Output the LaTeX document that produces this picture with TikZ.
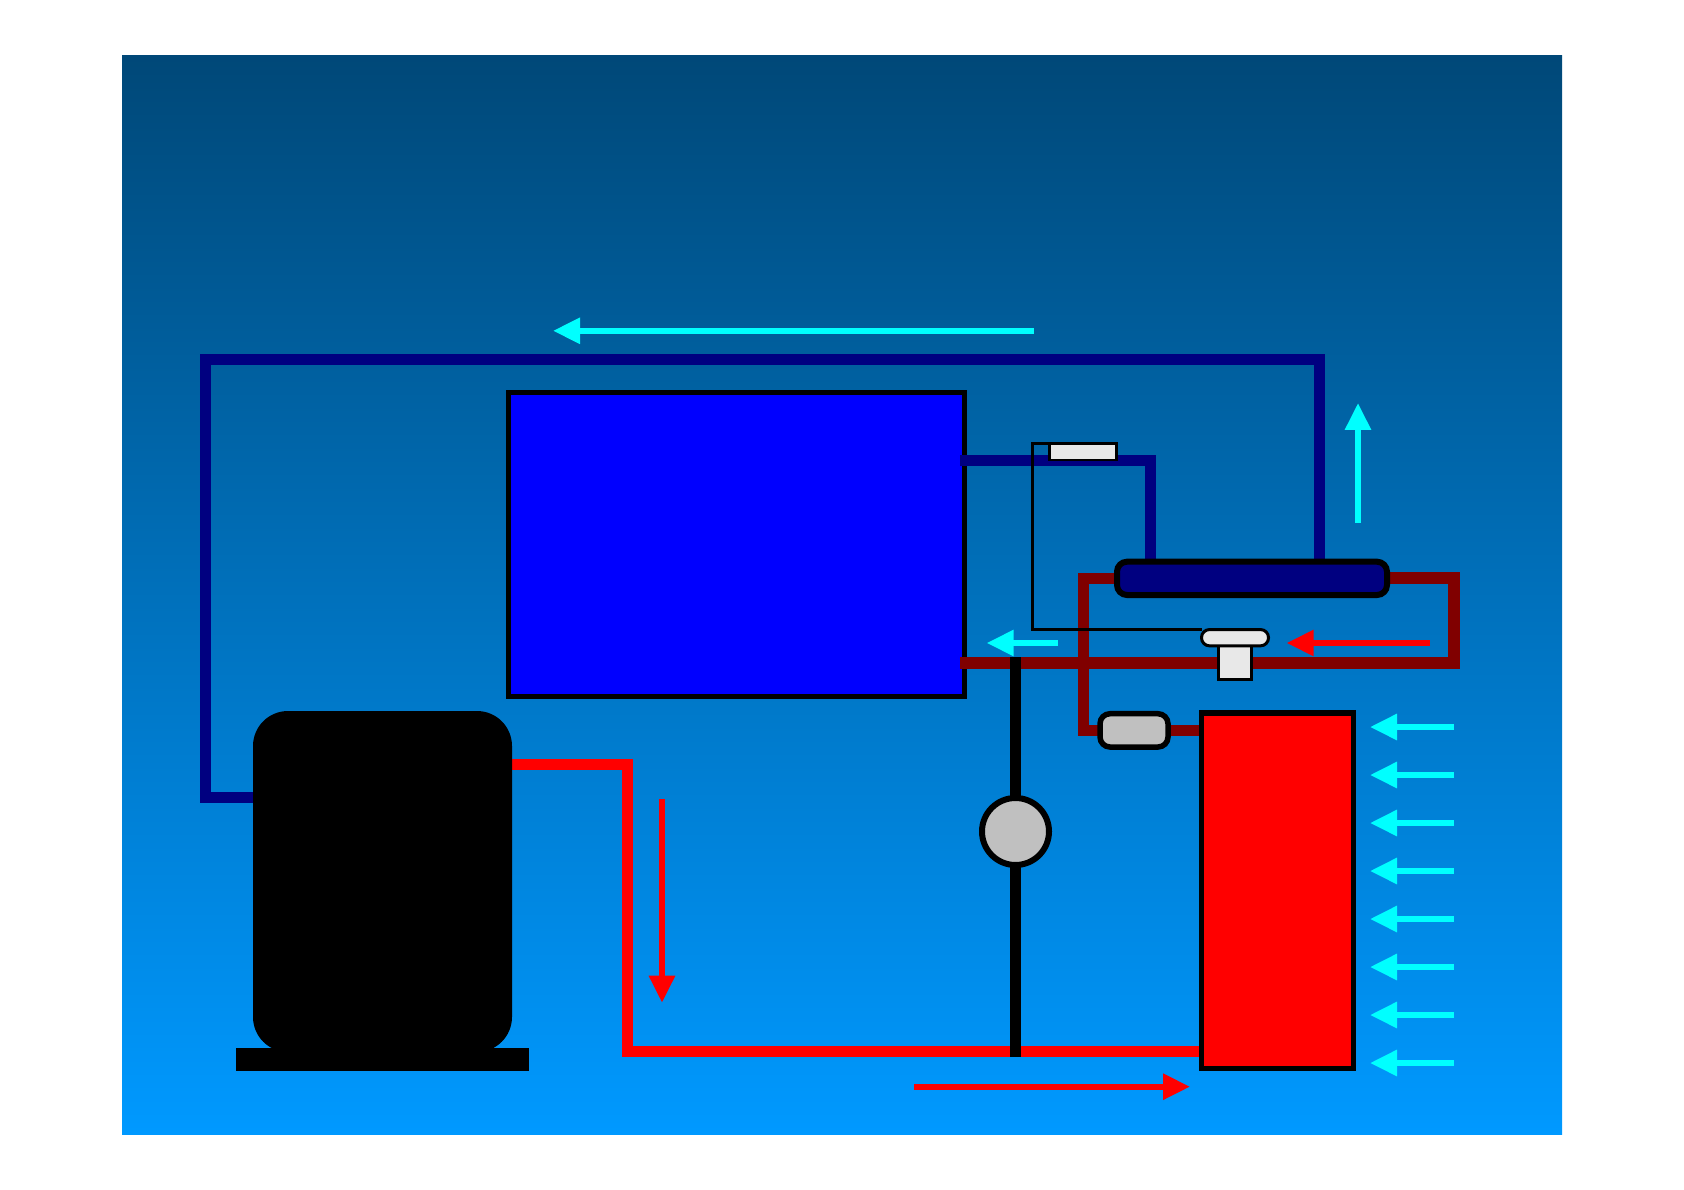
\documentclass[tikz,border=0pt]{standalone}
\usetikzlibrary{arrows.meta}
\pgfdeclarelayer{back}\pgfdeclarelayer{pipes}
\pgfsetlayers{back,pipes,main}
\definecolor{skytop}{RGB}{0,72,120}
\definecolor{skybot}{RGB}{0,153,255}
\definecolor{coilblue}{RGB}{0,0,128}
\definecolor{linered}{RGB}{128,0,0}
\definecolor{partgrey}{RGB}{192,192,192}
\definecolor{partwhite}{RGB}{232,232,232}
\definecolor{flowcyan}{RGB}{0,255,255}
\tikzset{
  part/.style 2 args={minimum width=#1*0.02cm,minimum height=#2*0.02cm,inner sep=0pt,outer sep=0pt,draw=black},
  solid part/.style 2 args={minimum width=#1*0.02cm,minimum height=#2*0.02cm,inner sep=0pt,outer sep=0pt,fill=black},
  pipe/.style={line width=0.22cm},
  flow/.style={line width=0.12cm,-{Triangle[length=0.54cm,width=0.5cm]}},
}
\begin{document}
\begin{tikzpicture}[x=0.02cm,y=-0.02cm]
  \useasboundingbox (0,0) rectangle (1684,1190);
  \begin{pgfonlayer}{back}
    \shade[top color=skytop,bottom color=skybot] (122,55) rectangle (1562,1134.5);
    \node[part={456}{303.8},line width=0.11cm,fill=blue] (evaporator) at (736.5,544.4) {};
  \end{pgfonlayer}
  \node[solid part={293}{23}] (base) at (382.5,1059.5) {};
  \node[solid part={259}{341},rounded corners=0.7cm] (compressor) at (382.5,881.5) {};
  \node[part={152}{355.5},line width=0.11cm,fill=red] (condenser) at (1277.5,890.75) {};
  \node[part={270}{33.3},line width=0.12cm,fill=coilblue,rounded corners=0.2cm] (receiver) at (1252,578.35) {};
  \node[part={68}{33.3},line width=0.11cm,fill=partgrey,rounded corners=0.2cm] (filter) at (1134,730.35) {};
  \node[circle,draw=black,line width=0.12cm,fill=partgrey,minimum size=67*0.02cm,inner sep=0pt,outer sep=0pt] (glass) at (1015.5,831.5) {};
  \node[part={67}{16.5},line width=0.055cm,fill=partwhite] (sensor) at (1083,451.75) {};
  \node[part={32.8}{39.4},line width=0.055cm,fill=partwhite] (stem) at (1234.9,659.7) {};
  \node[part={67}{16.3},line width=0.06cm,fill=partwhite,rounded corners=0.16cm] (valvecap) at (1235,637.7) {};
  \coordinate (suctionleft) at (205,797.7);
  \coordinate (suctiontop) at (1319.5,359.5);
  \coordinate (coilend) at (960,460);
  \coordinate (coilbend) at (1150.7,460);
  \coordinate (hotbend) at (627.5,1051.5);
  \coordinate (drierbend) at (1083.3,730.35);
  \coordinate (linebend) at (1454,663);
  \coordinate (lineend) at (960,663);
  \coordinate (glasstop) at (1015.5,657.3);
  \coordinate (glassbot) at (1015.5,1057);
  \coordinate (capleft) at (1032.6,536);
  \begin{pgfonlayer}{pipes}
    \draw[pipe,coilblue] (compressor.west |- suctionleft) -- (suctionleft) |- (suctiontop) -- (suctiontop |- receiver.north);
    \draw[pipe,coilblue] (coilend) -- (coilbend) -- (coilbend |- receiver.north);
    \draw[pipe,red] (compressor.east |- 0,764.5) -| (hotbend) -- (condenser.west |- hotbend);
    \draw[pipe,linered] (receiver.west) -| (drierbend) -- (filter.west);
    \draw[pipe,linered] (filter.east) -- (condenser.west |- filter.east);
    \draw[pipe,linered,line width=0.24cm] (receiver.east) -| (linebend) -- (lineend);
    \draw[pipe,black] (glasstop) -- (glassbot);
    \draw[black,line width=0.06cm] (sensor.north west) -| (capleft) |- (valvecap.north west);
  \end{pgfonlayer}
  \coordinate (topflowa) at (1034,330.8); \coordinate (topflowb) at (553,330.8);
  \coordinate (upflowa) at (1358,522.7); \coordinate (upflowb) at (1358,403);
  \coordinate (midflowa) at (1058,643); \coordinate (midflowb) at (986.7,643);
  \coordinate (valveflowa) at (1430,643); \coordinate (valveflowb) at (1286.7,643);
  \coordinate (downflowa) at (662,799); \coordinate (downflowb) at (662,1002.7);
  \coordinate (outflowa) at (914,1086.7); \coordinate (outflowb) at (1190,1086.7);
  \draw[flow,flowcyan] (topflowa) -- (topflowb);
  \draw[flow,flowcyan] (upflowa) -- (upflowb);
  \draw[flow,flowcyan] (midflowa) -- (midflowb);
  \draw[flow,red] (valveflowa) -- (valveflowb);
  \draw[flow,red] (downflowa) -- (downflowb);
  \draw[flow,red] (outflowa) -- (outflowb);
  \foreach \i in {0,...,7} {
    \coordinate (aira\i) at (1454,727+48*\i); \coordinate (airb\i) at (1370,727+48*\i);
    \draw[flow,flowcyan] (aira\i) -- (airb\i);
  }
\end{tikzpicture}
\end{document}
